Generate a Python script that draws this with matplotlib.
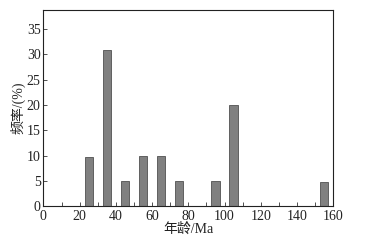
import matplotlib; matplotlib.use('Agg')
import matplotlib.pyplot as plt

# --- data
ages = [25, 35, 45, 55, 65, 75, 95, 105, 155]
freq = [9.8, 30.8, 5, 10, 10, 5, 5, 20, 4.8]
x_ticks = [0, 20, 40, 60, 80, 100, 120, 140, 160]
y_ticks = [0, 5, 10, 15, 20, 25, 30, 35]

plt.rcParams['font.family'] = ['Liberation Serif', 'Noto Sans CJK SC']
plt.rcParams['font.size'] = 10

fig = plt.figure(figsize=(3.71, 2.43), dpi=100)
ax = fig.add_axes([0.117, 0.151, 0.781, 0.808])

ax.bar(ages, freq, width=4.5, color='#808080', edgecolor='#505050', linewidth=0.6)

ax.set_xlim(0, 160)
ax.set_ylim(0, 38.8)
ax.set_xticks(x_ticks)
ax.set_xticks(range(10, 160, 20), minor=True)
ax.set_yticks(y_ticks)
ax.tick_params(direction='in', length=3, width=0.6, color='#333333', labelcolor='#222222')
ax.tick_params(axis='x', pad=2.5)
ax.tick_params(axis='y', pad=2)
ax.tick_params(which='minor', direction='in', length=3, width=0.6, color='#333333')
for s in ax.spines.values():
    s.set_linewidth(0.8)
    s.set_color('#222222')

ax.set_xlabel('年龄/Ma', labelpad=0, color='#222222')
ax.set_ylabel('频率/(%)', labelpad=1, color='#222222')

plt.savefig('out.png', dpi=100)
